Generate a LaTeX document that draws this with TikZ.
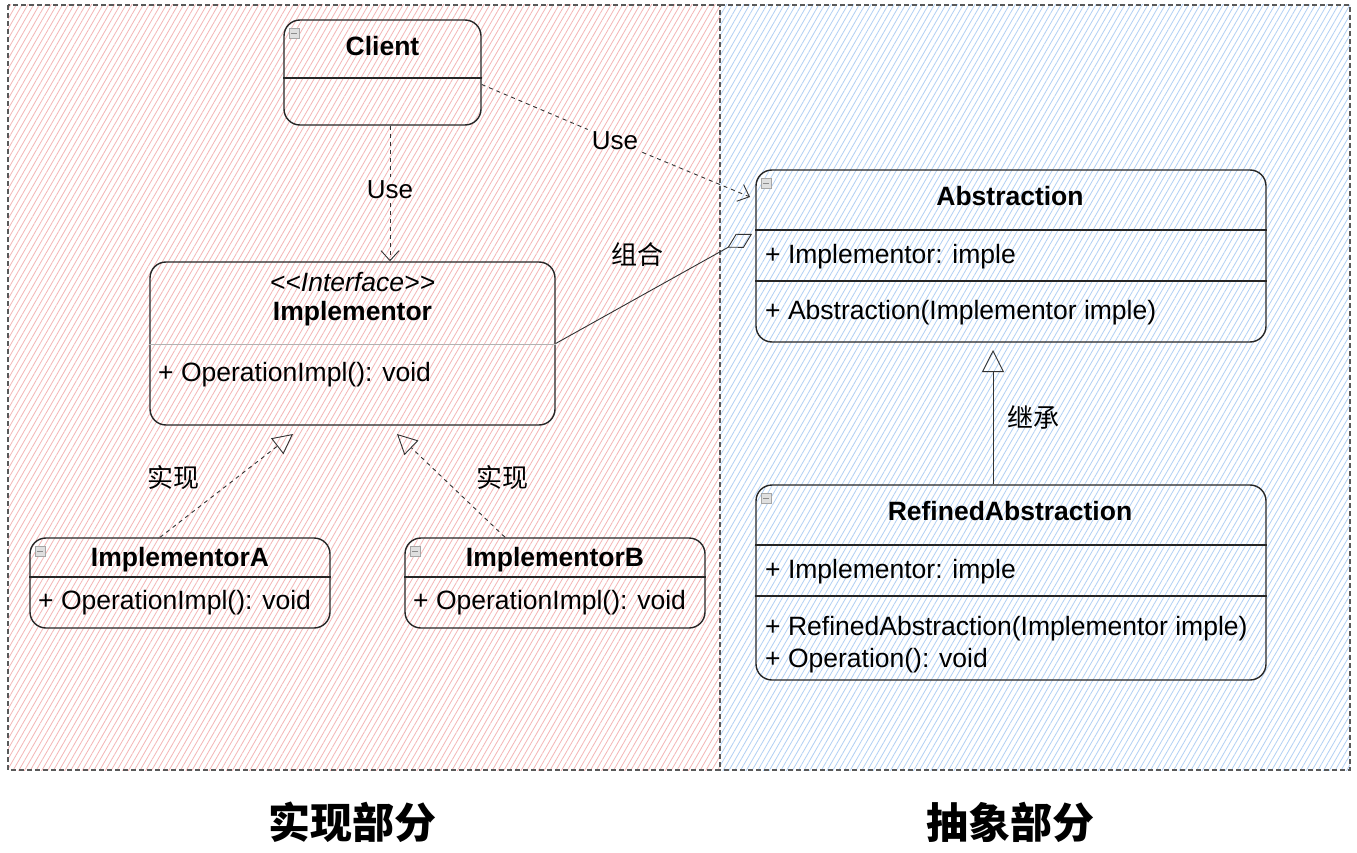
\documentclass[tikz,border=0pt]{standalone}
\usepackage{fontspec}
\setmainfont{Liberation Sans}
\newfontfamily\cjk{Noto Sans CJK SC}
\usetikzlibrary{arrows.meta,patterns.meta}

\tikzset{
  classbox/.style={draw=black!85, line width=1.4pt, rounded corners=16pt, inner sep=0pt},
  classname/.style={font=\fontsize{26.5}{30}\selectfont\bfseries, inner sep=0pt},
  member/.style={font=\fontsize{26.5}{30}\selectfont, anchor=west, inner sep=0pt},
  divider/.style={draw=black!85, line width=1.1pt},
  relabel/.style={font=\fontsize{26}{30}\selectfont\cjk, inner sep=0pt},
  uselabel/.style={font=\fontsize{26}{30}\selectfont, inner sep=4pt},
  useline/.style={draw=black!80, line width=0.9pt, dash pattern=on 4pt off 4pt},
  realize/.style={draw=black!80, line width=0.9pt, dash pattern=on 4pt off 4pt, -{Triangle[open,length=20pt,width=20pt]}},
  inherit/.style={draw=black!80, line width=0.9pt, -{Triangle[open,length=22pt,width=22pt]}},
  aggregate/.style={draw=black!80, line width=0.9pt, -{Diamond[open,length=28pt,width=16pt]}},
  panel/.style={draw=black!65, line width=1.1pt, dash pattern=on 5pt off 3pt},
  partlabel/.style={font=\fontsize{42}{48}\selectfont\cjk\bfseries}
}

\begin{document}
\begin{tikzpicture}[x=1pt, y=-1pt]

% Define Panel Colors
\definecolor{ImplLine}{RGB}{244,182,182}
\definecolor{AbsLine}{RGB}{178,208,244}

\useasboundingbox (0,0) rectangle (1357,853);
\fill[white] (0,0) rectangle (1357,853);

% Hatched panels (implementation left, abstraction right)
\fill[pattern={Lines[angle=60,distance=5pt,line width=0.8pt]}, pattern color=ImplLine] (8,5) rectangle (720,770);
\fill[pattern={Lines[angle=60,distance=5pt,line width=0.8pt]}, pattern color=AbsLine] (720,5) rectangle (1350,770);
\draw[panel] (8,5) rectangle (720,770);
\draw[panel] (720,5) -- (1350,5) -- (1350,770) -- (720,770);

% Client
\node[classbox, minimum width=197pt, minimum height=105pt] (client) at (382.5,72.5) {};
\node[classname] (clientName) at (382.5,46) {Client};
\draw[divider] (client.west |- 0,78) -- (client.east |- 0,78);

% Implementor (interface)
\node[classbox, minimum width=405pt, minimum height=163pt] (implementor) at (352.5,343.5) {};
\node[font=\fontsize{26.5}{30}\selectfont\itshape, inner sep=0pt] (implStereo) at (352.5,282) {<\kern0pt<Interface>\kern0pt>};
\node[classname] (implName) at (352.5,314) {Implementor};
\draw[gray!60, line width=0.6pt] (implementor.west |- 0,344) -- (implementor.east |- 0,344);
\node[member] (implOp) at (158,375) {+ OperationImpl(): void};

% ImplementorA / ImplementorB
\node[classbox, minimum width=300pt, minimum height=90pt] (implA) at (180,583) {};
\node[classname] (implAName) at (180,560) {ImplementorA};
\draw[divider] (implA.west |- 0,577) -- (implA.east |- 0,577);
\node[member] (implAOp) at (38,603) {+ OperationImpl(): void};

\node[classbox, minimum width=300pt, minimum height=90pt] (implB) at (555,583) {};
\node[classname] (implBName) at (555,560) {ImplementorB};
\draw[divider] (implB.west |- 0,577) -- (implB.east |- 0,577);
\node[member] (implBOp) at (413,603) {+ OperationImpl(): void};

% Abstraction
\node[classbox, minimum width=510pt, minimum height=172pt] (abstraction) at (1011,256) {};
\node[classname] (absName) at (1010,196) {Abstraction};
\draw[divider] (abstraction.west |- 0,230) -- (abstraction.east |- 0,230);
\node[member] (absField) at (765,257) {+ Implementor: imple};
\draw[divider] (abstraction.west |- 0,281) -- (abstraction.east |- 0,281);
\node[member] (absCtor) at (765,313) {+ Abstraction(Implementor imple)};

% RefinedAbstraction
\node[classbox, minimum width=510pt, minimum height=195pt] (refined) at (1011,582.5) {};
\node[classname] (refName) at (1010,511) {RefinedAbstraction};
\draw[divider] (refined.west |- 0,545) -- (refined.east |- 0,545);
\node[member] (refField) at (765,572) {+ Implementor: imple};
\draw[divider] (refined.west |- 0,596) -- (refined.east |- 0,596);
\node[member] (refCtor) at (765,629) {+ RefinedAbstraction(Implementor imple)};
\node[member] (refOp) at (765,661) {+ Operation(): void};

% collapse icons
\foreach \n in {client, implA, implB, abstraction, refined} {
  \draw[gray!70, fill=gray!25, line width=0.6pt] ([xshift=6pt,yshift=-9pt]\n.north west) rectangle ++(10,10);
  \draw[gray!90, line width=0.8pt] ([xshift=8pt,yshift=-14pt]\n.north west) -- ++(6,0);
}

% Use: Client -> Implementor
\node[uselabel] (useDown) at (390,190) {Use};
\draw[useline] (client.south -| useDown) -- (useDown);
\draw[useline, -{Straight Barb[length=10pt,width=18pt]}] (useDown) -- (implementor.north -| useDown);

% Use: Client -> Abstraction
\coordinate (useTip) at (750,197);
\node[uselabel] (useRight) at (615,141) {Use};
\draw[useline] ([yshift=-12pt]client.east) -- (useRight);
\draw[useline, -{Straight Barb[length=10pt,width=18pt]}] (useRight) -- (useTip);

% Aggregation: Implementor <>- Abstraction
\coordinate (aggTip) at (752,234);
\draw[aggregate] (implementor.east) -- (aggTip);
\node[relabel] (aggLabel) at (637,255) {组合};

% Realization
\coordinate (tipA) at (293,434);
\coordinate (tipB) at (397,434);
\draw[realize] ([xshift=-20pt]implA.north) -- (tipA);
\draw[realize] ([xshift=-50pt]implB.north) -- (tipB);
\node[relabel] (realLabelA) at (173,478) {实现};
\node[relabel] (realLabelB) at (502,478) {实现};

% Inheritance
\coordinate (inhTip) at (993,350);
\draw[inherit] (refined.north -| inhTip) -- (inhTip);
\node[relabel] (inhLabel) at (1033,417) {继承};

% Part labels
\node[partlabel] (implPart) at (352,822) {实现部分};
\node[partlabel] (absPart) at (1010,822) {抽象部分};

\end{tikzpicture}
\end{document}
